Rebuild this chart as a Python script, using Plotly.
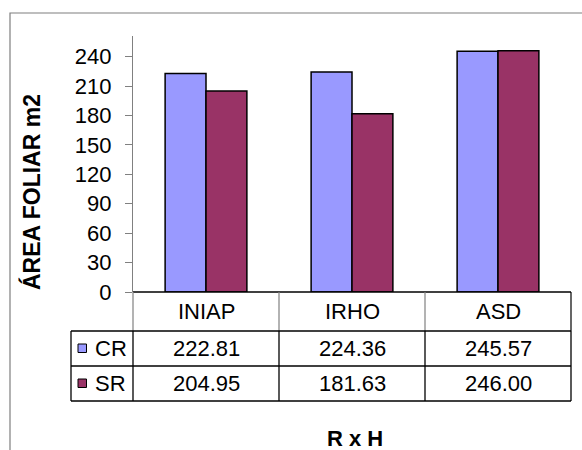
import plotly.graph_objects as go

# Data
categories = ["INIAP", "IRHO", "ASD"]
series_names = ["CR", "SR"]
cr_values = [222.81, 224.36, 245.57]
sr_values = [204.95, 181.63, 246.00]
series_values = [cr_values, sr_values]
series_colors = ["#9999FF", "#993366"]
y_ticks = [0, 30, 60, 90, 120, 150, 180, 210, 240]

FONT = "Liberation Sans, Arial, sans-serif"
W, H = 582, 450
# plot area in pixels
PL, PR, PT, PB = 133, 571, 36, 292


def px(x):
    return (x - PL) / (PR - PL)


def py(y):
    return (PB - y) / (PB - PT)


fig = go.Figure()
for name, vals, col in zip(series_names, series_values, series_colors):
    fig.add_trace(go.Bar(
        x=categories, y=vals, name=name,
        marker=dict(color=col, line=dict(color="black", width=1.5)),
        showlegend=False, hoverinfo="x+y+name",
    ))

shapes = []


def line(x0, y0, x1, y1, color="black", width=1.3):
    shapes.append(dict(type="line", xref="paper", yref="paper",
                       x0=px(x0), y0=py(y0), x1=px(x1), y1=py(y1),
                       line=dict(color=color, width=width)))


# outer chart frame
shapes.append(dict(type="path", xref="paper", yref="paper",
                   path=f"M {px(10)},{py(455)} L {px(10)},{py(13)} L {px(585)},{py(13)}",
                   line=dict(color="#7f7f7f", width=1.2)))

# data table grid
col_edges = [PL + i * (PR - PL) / len(categories) for i in range(len(categories) + 1)]
row_top, row_hdr, row_1, row_2 = 292, 331, 366, 401
legend_left = 71

line(PL, row_top, PR, row_top, "black", 1.5)
for i, xe in enumerate(col_edges):
    c = "black" if i == len(col_edges) - 1 else "#808080"
    line(xe, row_top, xe, row_hdr, c, 1.2)
    line(xe, row_hdr, xe, row_2, "black", 1.3)
line(legend_left, row_hdr, legend_left, row_2, "black", 1.3)
for yy in (row_hdr, row_1, row_2):
    line(legend_left, yy, PR, yy, "black", 1.3)

TSIZE = 22
annotations = []
centers = [(col_edges[i] + col_edges[i + 1]) / 2 for i in range(len(categories))]
for c, cx in zip(categories, centers):
    annotations.append(dict(text=c, x=px(cx), y=py((row_top + row_hdr) / 2),
                            xref="paper", yref="paper", showarrow=False,
                            xanchor="center", yanchor="middle",
                            font=dict(family=FONT, size=TSIZE, color="black")))

row_mids = [(row_hdr + row_1) / 2, (row_1 + row_2) / 2]
for name, vals, col, ym in zip(series_names, series_values, series_colors, row_mids):
    shapes.append(dict(type="rect", xref="paper", yref="paper",
                       x0=px(78), x1=px(86.5), y0=py(ym - 4.5), y1=py(ym + 4),
                       fillcolor=col, line=dict(color="black", width=1)))
    annotations.append(dict(text=name, x=px(93), y=py(ym),
                            xref="paper", yref="paper", showarrow=False,
                            xanchor="left", yanchor="middle",
                            font=dict(family=FONT, size=TSIZE, color="black")))
    for v, cx in zip(vals, centers):
        annotations.append(dict(text=f"{v:.2f}", x=px(cx), y=py(ym),
                                xref="paper", yref="paper", showarrow=False,
                                xanchor="center", yanchor="middle",
                                font=dict(family=FONT, size=TSIZE, color="black")))

# axis titles
annotations.append(dict(text="<b>ÁREA FOLIAR m2</b>", x=px(31), y=py(192),
                        xref="paper", yref="paper", showarrow=False, textangle=-90,
                        xanchor="center", yanchor="middle",
                        font=dict(family=FONT, size=23, color="black")))
annotations.append(dict(text="<b>R x H</b>", x=px(355), y=py(438),
                        xref="paper", yref="paper", showarrow=False,
                        xanchor="center", yanchor="middle",
                        font=dict(family=FONT, size=22, color="black")))

fig.update_layout(
    width=W, height=H,
    margin=dict(l=PL, r=W - PR, t=PT, b=H - PB, pad=0),
    paper_bgcolor="white", plot_bgcolor="white",
    barmode="group", bargap=0.44, bargroupgap=0,
    shapes=shapes, annotations=annotations,
    font=dict(family=FONT, size=TSIZE, color="black"),
    xaxis=dict(range=[-0.5, 2.5], showticklabels=False, ticks="",
               showgrid=False, zeroline=False, showline=False),
    yaxis=dict(range=[0, 261], tickvals=y_ticks, ticks="outside", ticklen=7,
               tickcolor="#808080", showline=True, linecolor="#808080", linewidth=1.3,
               showgrid=False, zeroline=False, ticklabelstandoff=9,
               tickfont=dict(family=FONT, size=22, color="black")),
)

fig.write_html("out.html")
